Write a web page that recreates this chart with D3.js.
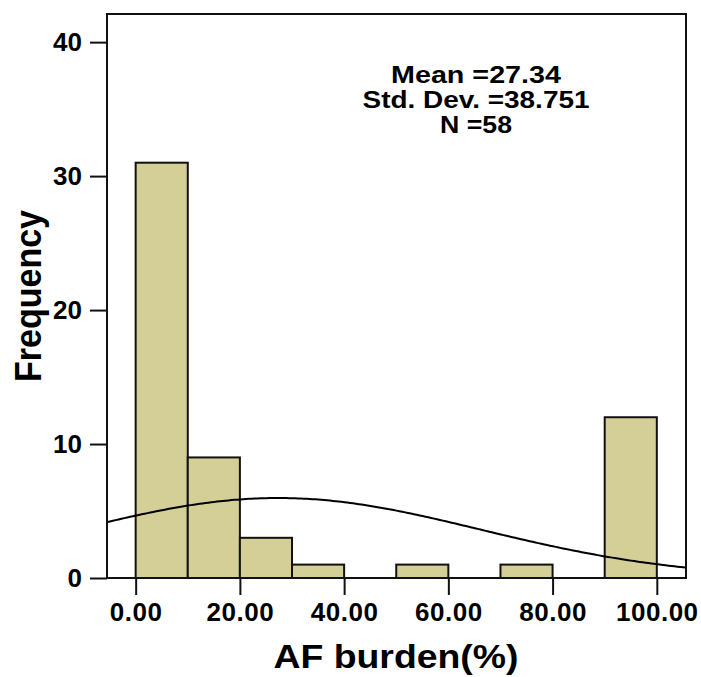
<!DOCTYPE html>
<html>
<head>
<meta charset="utf-8">
<script src="https://cdn.jsdelivr.net/npm/d3@7"></script>
<style>
  html, body { margin: 0; padding: 0; background: #fff; }
  svg { display: block; }
  text { font-family: "Liberation Sans", Arial, sans-serif; font-weight: bold; fill: #000; }
</style>
</head>
<body>
<svg id="chart" width="701" height="677"></svg>
<script>
// Histogram bins of AF burden (%) — bin start and count
const binStarts = [0, 10, 20, 30, 40, 50, 60, 70, 80, 90];
const binWidth = 10;
const counts = [31, 9, 3, 1, 0, 1, 0, 1, 0, 12];

// Summary statistics shown in the panel and used for the normal curve
const statMean = 27.34;
const statSD = 38.751;
const statN = 58;

const xTicks = [0, 20, 40, 60, 80, 100];
const yTicks = [0, 10, 20, 30, 40];

const xTitle = "AF burden(%)";
const yTitle = "Frequency";

const svg = d3.select("#chart");
const plot = { left: 107, right: 686, top: 14, bottom: 578 };

const x = d3.scaleLinear().domain([-5.5, 105.6]).range([plot.left, plot.right]);
const y = d3.scaleLinear().domain([0, 42.1]).range([plot.bottom, plot.top]);

// Bars
const bins = binStarts.map((s, i) => ({ x0: s, x1: s + binWidth, n: counts[i] }))
  .filter(d => d.n > 0);
svg.append("g").selectAll("rect").data(bins).join("rect")
  .attr("x", d => x(d.x0))
  .attr("y", d => y(d.n))
  .attr("width", d => x(d.x1) - x(d.x0))
  .attr("height", d => y(0) - y(d.n))
  .attr("fill", "#d3cf97")
  .attr("stroke", "#111")
  .attr("stroke-width", 2);

// Fitted normal curve scaled to counts per bin
const pdf = v => Math.exp(-0.5 * ((v - statMean) / statSD) ** 2) / (statSD * Math.sqrt(2 * Math.PI));
const [d0, d1] = x.domain();
const curvePts = d3.range(0, 201).map(i => d0 + (d1 - d0) * i / 200)
  .map(v => [v, statN * binWidth * pdf(v)]);
svg.append("path")
  .datum(curvePts)
  .attr("fill", "none")
  .attr("stroke", "#000")
  .attr("stroke-width", 2)
  .attr("d", d3.line().x(d => x(d[0])).y(d => y(d[1])).curve(d3.curveBasis));

// Axes
const yAxis = svg.append("g")
  .attr("transform", `translate(${plot.left},0)`)
  .call(d3.axisLeft(y).tickValues(yTicks).tickFormat(d3.format("d")).tickSize(17).tickPadding(8));
const xAxis = svg.append("g")
  .attr("transform", `translate(0,${plot.bottom})`)
  .call(d3.axisBottom(x).tickValues(xTicks).tickFormat(d3.format(".2f")).tickSize(17).tickPadding(8));
[yAxis, xAxis].forEach(g => {
  g.select(".domain").remove();
  g.selectAll(".tick line").attr("stroke", "#111").attr("stroke-width", 2);
  g.selectAll(".tick text")
    .style("font-family", '"Liberation Sans", Arial, sans-serif')
    .style("font-weight", "bold")
    .style("font-size", "26px")
    .attr("fill", "#000");
});
xAxis.selectAll(".tick text").style("letter-spacing", "0.5px");

// Plot frame
svg.append("rect")
  .attr("x", plot.left).attr("y", plot.top)
  .attr("width", plot.right - plot.left).attr("height", plot.bottom - plot.top)
  .attr("fill", "none").attr("stroke", "#111").attr("stroke-width", 2);

// Statistics panel
const statLines = [
  { t: `Mean =${statMean}`, w: 170 },
  { t: `Std. Dev. =${statSD}`, w: 227 },
  { t: `N =${statN}`, w: 72 }
];
svg.append("g").selectAll("text").data(statLines).join("text")
  .attr("x", 476)
  .attr("y", (d, i) => 83 + i * 25)
  .attr("text-anchor", "middle")
  .attr("font-size", 23)
  .attr("textLength", d => d.w)
  .attr("lengthAdjust", "spacingAndGlyphs")
  .text(d => d.t);

// Axis titles
svg.append("text")
  .attr("x", 396).attr("y", 668)
  .attr("text-anchor", "middle")
  .attr("font-size", 34)
  .attr("textLength", 245)
  .attr("lengthAdjust", "spacingAndGlyphs")
  .text(xTitle);

svg.append("text")
  .attr("transform", "translate(41,296) scale(1.1,1) rotate(-90)")
  .attr("text-anchor", "middle")
  .attr("font-size", 34)
  .text(yTitle);
</script>
</body>
</html>
